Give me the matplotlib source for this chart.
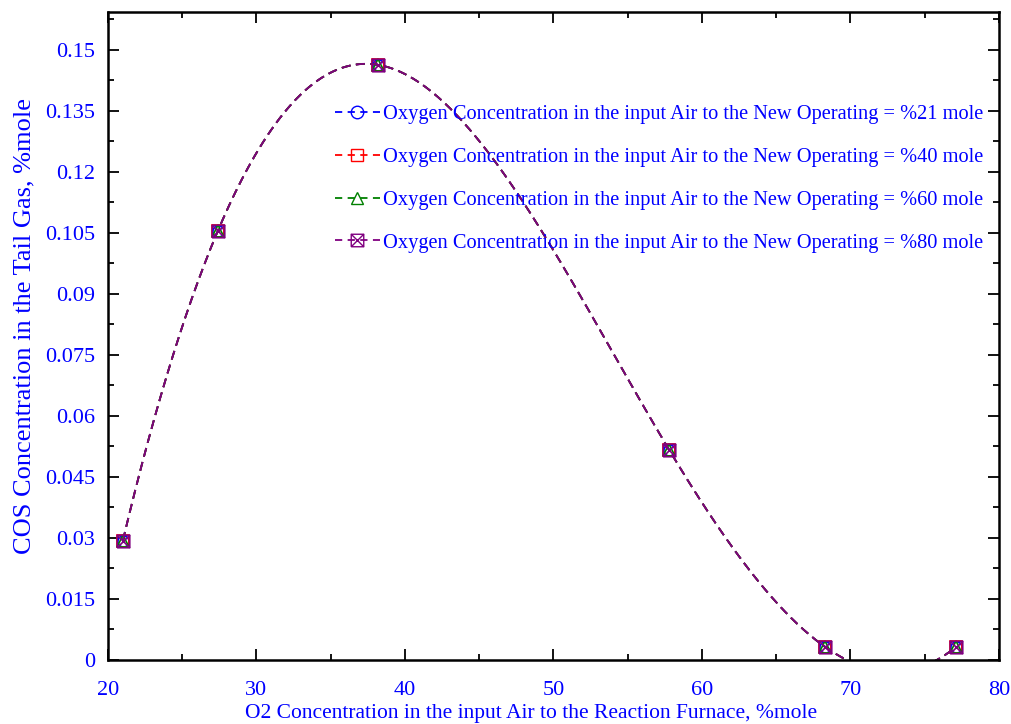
import numpy as np
import matplotlib
matplotlib.use('Agg')
import matplotlib.pyplot as plt
from matplotlib.path import Path
from matplotlib.ticker import MultipleLocator, FuncFormatter

plt.rcParams['font.family'] = ['Liberation Serif', 'DejaVu Serif']

# ── 数据 ──
o2 = [21.0, 27.4, 38.2, 57.8, 68.3, 77.1]
cos = [0.0293, 0.1055, 0.1463, 0.0516, 0.0032, 0.0032]
labels = ['Oxygen Concentration in the input Air to the New Operating = %21 mole',
          'Oxygen Concentration in the input Air to the New Operating = %40 mole',
          'Oxygen Concentration in the input Air to the New Operating = %60 mole',
          'Oxygen Concentration in the input Air to the New Operating = %80 mole']
colors = ['#0000ff', '#ff0000', '#008000', '#800080']

# box with an X inside
box_x = Path([(-1, -1), (1, -1), (1, 1), (-1, 1), (-1, -1), (-1, -1), (1, 1), (-1, 1), (1, -1)],
             [1, 2, 2, 2, 2, 1, 2, 1, 2])
markers = ['o', 's', '^', box_x]


def spline_nak(x, y, xs):
    """三次样条, not-a-knot 端点条件"""
    x = np.asarray(x, float); y = np.asarray(y, float)
    n = len(x)
    h = np.diff(x)
    A = np.zeros((n, n)); r = np.zeros(n)
    A[0, 0], A[0, 1], A[0, 2] = h[1], -(h[0] + h[1]), h[0]
    A[-1, -3], A[-1, -2], A[-1, -1] = h[-1], -(h[-2] + h[-1]), h[-2]
    for i in range(1, n - 1):
        A[i, i - 1] = h[i - 1]
        A[i, i] = 2 * (h[i - 1] + h[i])
        A[i, i + 1] = h[i]
        r[i] = 6 * ((y[i + 1] - y[i]) / h[i] - (y[i] - y[i - 1]) / h[i - 1])
    M = np.linalg.solve(A, r)
    k = np.clip(np.searchsorted(x, xs) - 1, 0, n - 2)
    t0 = x[k + 1] - xs; t1 = xs - x[k]
    return (M[k] * t0**3 + M[k + 1] * t1**3) / (6 * h[k]) \
        + (y[k] / h[k] - M[k] * h[k] / 6) * t0 + (y[k + 1] / h[k] - M[k + 1] * h[k] / 6) * t1


xs = np.linspace(o2[0], o2[-1], 400)
ys = spline_nak(o2, cos, xs)

fig = plt.figure(figsize=(10.11, 7.24), dpi=100)
ax = fig.add_axes([0.1068, 0.0884, 0.8813, 0.895])

for c, m, lab in zip(colors, markers, labels):
    ax.plot(xs, ys, color=c, linestyle='--', linewidth=1.3, dashes=(5, 3))
    ax.plot(o2, cos, linestyle='none', marker=m, markersize=9 if m is box_x else 8,
            markerfacecolor='none', markeredgecolor=c, markeredgewidth=1.2)
    ax.plot([], [], color=c, linestyle='--', dashes=(4, 3), linewidth=1.3, marker=m,
            markersize=9, markerfacecolor='none', markeredgecolor=c, label=lab)

ax.set_xlim(20, 80)
ax.set_ylim(0, 0.1593)
ax.xaxis.set_major_locator(MultipleLocator(10))
ax.xaxis.set_minor_locator(MultipleLocator(5))
ax.yaxis.set_major_locator(MultipleLocator(0.015))
ax.yaxis.set_minor_locator(MultipleLocator(0.0075))
ax.yaxis.set_major_formatter(FuncFormatter(lambda v, p: '0' if abs(v) < 1e-9 else f'{v:.3f}'.rstrip('0')))
ax.tick_params(which='both', direction='in', top=True, right=True, labelcolor='blue',
               labelsize=16, width=1.3)
ax.tick_params(axis='y', pad=9)
ax.tick_params(axis='x', pad=15)
ax.tick_params(which='major', length=8)
ax.tick_params(which='minor', length=4)
for s in ax.spines.values():
    s.set_linewidth(1.8)

ax.set_xlabel('O2 Concentration in the input Air to the Reaction Furnace, %mole', color='blue',
              fontsize=15.5)
ax.set_ylabel('COS Concentration in the Tail Gas, %mole', color='blue', fontsize=19)
ax.xaxis.set_label_coords(0.475, -0.068)
ax.yaxis.set_label_coords(-0.081, 0.515)

leg = ax.legend(loc='upper right', bbox_to_anchor=(1.003, 0.885), frameon=False, fontsize=14.7,
                handlelength=2.2, handletextpad=0.15, labelspacing=1.15)
for t in leg.get_texts():
    t.set_color('blue')

fig.savefig('out.png', dpi=100)
